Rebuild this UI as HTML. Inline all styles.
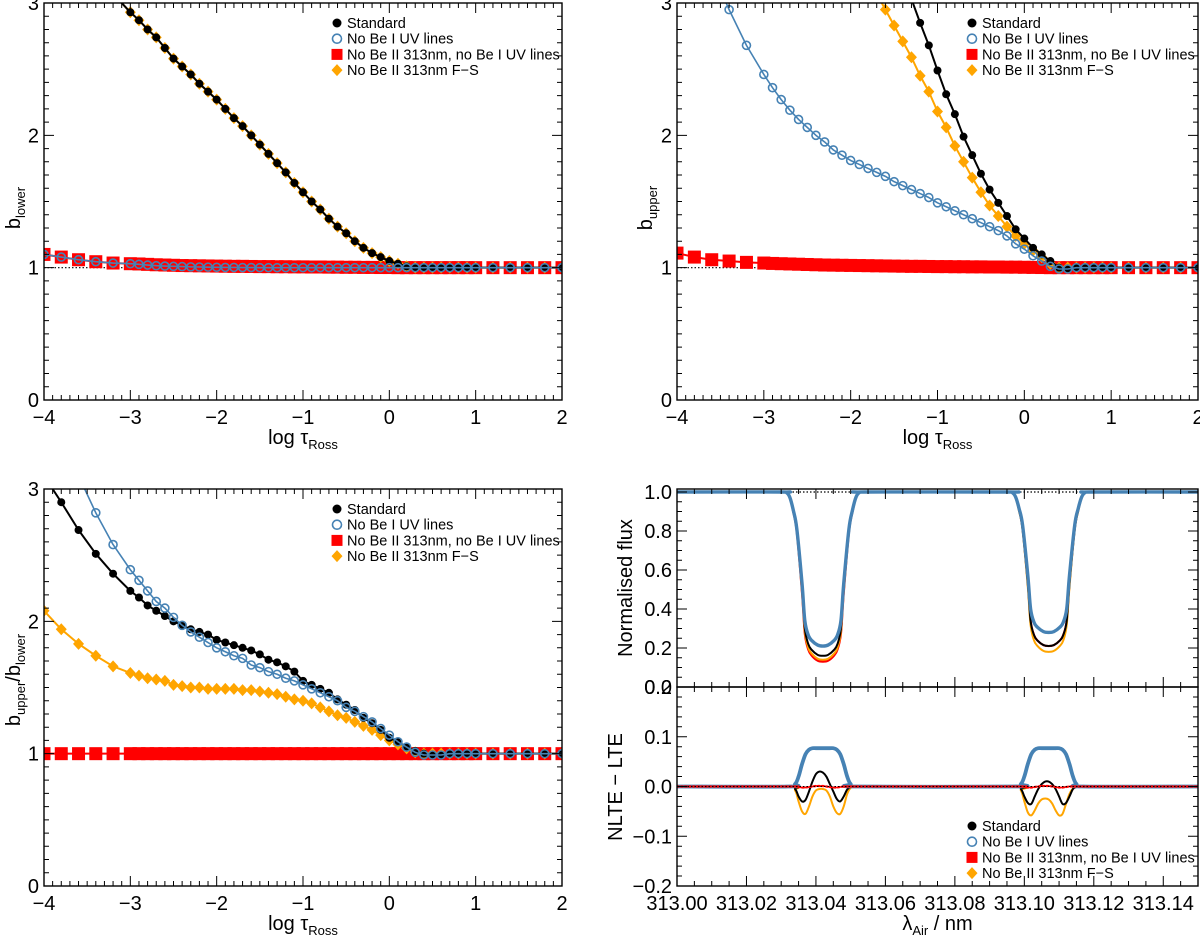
<!DOCTYPE html>
<html><head><meta charset="utf-8"><title>Departure coefficients and line profiles</title>
<style>
html,body{margin:0;padding:0;background:#fff;}
svg{display:block;font-family:"Liberation Sans",Arial,sans-serif;}
</style></head>
<body>
<svg id="fig" width="1200" height="935" viewBox="0 0 1200 935" xmlns="http://www.w3.org/2000/svg"></svg>
<script>
// ---------------- DATA ----------------
const tau = [-4,-3.8,-3.6,-3.4,-3.2,
 -3,-2.9,-2.8,-2.7,-2.6,-2.5,-2.4,-2.3,-2.2,-2.1,
 -2,-1.9,-1.8,-1.7,-1.6,-1.5,-1.4,-1.3,-1.2,-1.1,
 -1,-0.9,-0.8,-0.7,-0.6,-0.5,-0.4,-0.3,-0.2,-0.1,
 0,0.1,0.2,0.3,0.4,0.5,0.6,0.7,0.8,0.9,1.0,
 1.2,1.4,1.6,1.8,2.0];

// Panel 1: b_lower
const p1Std = [3.6,3.47,3.34,3.21,3.07,
 2.93,2.87,2.80,2.74,2.66,2.58,2.52,2.46,2.39,2.33,
 2.27,2.20,2.13,2.07,2.00,1.93,1.86,1.79,1.72,1.64,
 1.57,1.50,1.44,1.37,1.31,1.26,1.20,1.15,1.11,1.08,
 1.05,1.03,1.01,1.0,1.0,1.0,1.0,1.0,1.0,1.0,1.0,
 1,1,1,1,1];
const p1FS = [3.6,3.47,3.34,3.21,3.07,
 2.93,2.87,2.80,2.74,2.66,2.58,2.52,2.46,2.39,2.33,
 2.27,2.20,2.13,2.07,2.00,1.93,1.86,1.79,1.72,1.64,
 1.57,1.50,1.44,1.37,1.31,1.26,1.20,1.15,1.11,1.08,
 1.05,1.03,1.01,1.0,1.0,1.0,1.0,1.0,1.0,1.0,1.0,
 1,1,1,1,1];
const p1NoUV = [1.10,1.08,1.06,1.045,1.035,
 1.03,1.025,1.02,1.015,1.012,1.01,1.008,1.006,1.005,1.004,
 1.003,1.002,1.002,1.001,1.001,1.0,1.0,1.0,1.0,1.0,
 1,1,1,1,1,1,1,1,1,1,
 1,1,1,1,1,1,1,1,1,1,1,
 1,1,1,1,1];
const p1NoBoth = [1.10,1.08,1.06,1.045,1.035,
 1.03,1.028,1.025,1.022,1.02,1.018,1.016,1.015,1.014,1.013,
 1.012,1.011,1.01,1.01,1.009,1.008,1.008,1.007,1.007,1.006,
 1.006,1.005,1.005,1.004,1.004,1.003,1.003,1.002,1.002,1.001,
 1.001,1,1,1,1,1,1,1,1,1,1,
 1,1,1,1,1];

// Panel 2: b_upper
const p2Std = [7.5,7.2,6.9,6.6,6.3,
 5.98,5.81,5.64,5.47,5.3,5.13,4.96,4.79,4.62,4.45,
 4.28,4.1,3.93,3.75,3.57,3.39,3.21,3.03,2.85,2.68,
 2.49,2.31,2.16,1.99,1.85,1.71,1.59,1.49,1.39,1.29,
 1.22,1.15,1.10,1.05,1.0,0.995,1,1,1,1,1,
 1,1,1,1,1];
const p2FS = [5.6,5.4,5.2,5.0,4.8,
 4.6,4.48,4.36,4.24,4.12,4.0,3.89,3.78,3.66,3.55,
 3.43,3.31,3.19,3.07,2.95,2.83,2.71,2.59,2.45,2.33,
 2.18,2.06,1.92,1.80,1.68,1.57,1.47,1.39,1.31,1.24,
 1.18,1.13,1.08,1.03,1.0,1,1,1,1,1,1,
 1,1,1,1,1];
const p2NoUV = [3.85,3.55,3.25,2.95,2.68,
 2.46,2.36,2.27,2.19,2.12,2.06,2.0,1.95,1.89,1.85,
 1.81,1.78,1.75,1.72,1.69,1.65,1.62,1.59,1.56,1.53,
 1.49,1.46,1.43,1.40,1.37,1.34,1.31,1.28,1.24,1.18,
 1.14,1.09,1.05,1.01,0.99,0.99,1,1,1,1,1,
 1,1,1,1,1];
const p2NoBoth = [1.11,1.08,1.06,1.05,1.04,
 1.035,1.032,1.03,1.028,1.026,1.024,1.022,1.02,1.019,1.018,
 1.017,1.016,1.015,1.014,1.013,1.012,1.011,1.01,1.01,1.009,
 1.008,1.008,1.007,1.007,1.006,1.006,1.005,1.005,1.004,1.004,
 1.003,1.002,1.001,1,1,1,1,1,1,1,1,
 1,1,1,1,1];

// Panel 3: b_upper/b_lower
const p3Std = [3.1,2.90,2.69,2.51,2.36,
 2.23,2.18,2.12,2.08,2.04,2.0,1.97,1.94,1.92,1.90,
 1.86,1.84,1.82,1.80,1.78,1.75,1.71,1.69,1.66,1.62,
 1.55,1.52,1.49,1.46,1.41,1.37,1.33,1.27,1.23,1.18,
 1.12,1.09,1.05,1.02,1.0,0.99,0.99,1,1,1,1,
 1,1,1,1,1];
const p3NoUV = [3.8,3.45,3.1,2.82,2.58,
 2.39,2.31,2.23,2.15,2.10,2.03,1.97,1.92,1.88,1.84,
 1.80,1.77,1.74,1.72,1.67,1.65,1.62,1.60,1.57,1.55,
 1.52,1.49,1.46,1.43,1.40,1.35,1.32,1.28,1.24,1.19,
 1.14,1.09,1.05,1.01,0.99,0.99,0.99,1,1,1,1,
 1,1,1,1,1];
const p3FS = [2.08,1.94,1.83,1.74,1.66,
 1.61,1.59,1.57,1.56,1.55,1.52,1.51,1.50,1.50,1.49,
 1.49,1.49,1.49,1.48,1.48,1.47,1.46,1.45,1.43,1.41,
 1.40,1.38,1.35,1.32,1.29,1.27,1.24,1.21,1.18,1.14,
 1.10,1.07,1.04,1.01,1.0,1,1,1,1,1,1,
 1,1,1,1,1];
const p3NoBoth = [1,1,1,1,1,
 1,1,1,1,1,1,1,1,1,1,
 1,1,1,1,1,1,1,1,1,1,
 1,1,1,1,1,1,1,1,1,1,
 1,1,1,1,1,1,1,1,1,1,1,
 1,1,1,1,1];

// Panel 4a: normalised flux
const fluxWl = [313.000,
 313.030,313.0315,313.0325,313.0335,313.0345,313.036,313.0368,313.0378,313.0388,313.0405,313.042,
 313.0435,313.0452,313.0462,313.0472,313.048,313.0495,313.0505,313.0515,313.0525,313.054,
 313.095,313.0965,313.0975,313.0985,313.0995,313.101,313.1018,313.1028,313.1038,313.1055,313.107,
 313.1085,313.1102,313.1112,313.1122,313.113,313.1145,313.1155,313.1165,313.1175,313.119,
 313.150];
const fluxStd = [1,
 1,.997,.97,.90,.80,.50,.30,.22,.19,.165,.16,
 .165,.19,.22,.30,.50,.80,.90,.97,.997,1,
 1,.997,.972,.905,.81,.53,.34,.266,.238,.215,.21,
 .215,.238,.266,.34,.53,.81,.905,.972,.997,1,
 1];
const fluxNoUV = [1,
 1,.997,.972,.905,.81,.53,.34,.266,.238,.215,.21,
 .215,.238,.266,.34,.53,.81,.905,.972,.997,1,
 1,.997,.974,.914,.829,.572,.40,.331,.306,.284,.28,
 .284,.306,.331,.40,.572,.829,.914,.974,.997,1,
 1];
const fluxNoBoth = [1,
 1,.997,.969,.896,.793,.482,.275,.192,.161,.135,.13,
 .135,.161,.192,.275,.482,.793,.896,.969,.997,1,
 1,.997,.972,.905,.81,.53,.34,.266,.238,.215,.21,
 .215,.238,.266,.34,.53,.81,.905,.972,.997,1,
 1];
const fluxFS = [1,
 1,.997,.969,.897,.795,.488,.284,.201,.171,.145,.14,
 .145,.171,.201,.284,.488,.795,.897,.969,.997,1,
 1,.997,.97,.90,.805,.512,.317,.238,.21,.185,.18,
 .185,.21,.238,.317,.512,.805,.90,.97,.997,1,
 1];

// Panel 4b: NLTE - LTE
const diffWl = [313.000,
 313.032,313.034,313.035,313.036,313.037,313.038,313.039,313.040,313.041,313.042,313.043,313.044,313.045,313.046,313.047,313.048,313.049,313.050,313.052,
 313.097,313.099,313.100,313.101,313.102,313.103,313.104,313.105,313.106,313.107,313.108,313.109,313.110,313.111,313.112,313.113,313.114,313.115,313.117,
 313.150];
const diffStd = [0,
 0,-.005,-.02,-.03,-.027,-.01,.01,.025,.03,.028,.02,.005,-.01,-.025,-.03,-.02,-.006,-.001,0,
 0,-.005,-.02,-.033,-.035,-.02,-.005,.005,.01,.01,.005,-.005,-.02,-.035,-.033,-.02,-.005,-.001,0,
 0];
const diffNoUV = [0,
 0,.005,.02,.045,.065,.074,.077,.077,.077,.077,.077,.077,.077,.074,.065,.045,.02,.005,0,
 0,.005,.02,.045,.065,.074,.077,.077,.077,.077,.077,.077,.077,.074,.065,.045,.02,.005,0,
 0];
const diffNoBoth = [0,
 0,0,-.001,-.002,-.002,-.001,0,.001,.001,.001,0,-.001,-.002,-.002,-.001,0,0,0,0,
 0,0,-.001,-.002,-.002,-.001,0,.001,.001,.001,0,-.001,-.002,-.002,-.001,0,0,0,0,
 0];
const diffFS = [0,
 0,-.008,-.03,-.05,-.055,-.04,-.02,-.008,-.005,-.005,-.008,-.02,-.04,-.053,-.055,-.04,-.015,-.003,0,
 0,-.008,-.03,-.052,-.058,-.048,-.034,-.026,-.024,-.026,-.034,-.048,-.058,-.055,-.035,-.015,-.004,0,0,
 0];

// Tick labels
const tauTicks = [-4,-3,-2,-1,0,1,2];
const tauTickLabels = ["\u22124","\u22123","\u22122","\u22121","0","1","2"];
const bTicks = [0,1,2,3];
const bTickLabels = ["0","1","2","3"];
const wlTicks = [313.00,313.02,313.04,313.06,313.08,313.10,313.12,313.14];
const wlTickLabels = ["313.00","313.02","313.04","313.06","313.08","313.10","313.12","313.14"];
const fluxTicks = [0,0.2,0.4,0.6,0.8,1.0];
const fluxTickLabels = ["0.0","0.2","0.4","0.6","0.8","1.0"];
const diffTicks = [-0.2,-0.1,0,0.1,0.2];
const diffTickLabels = ["\u22120.2","\u22120.1","0.0","0.1","0.2"];
const legendLabels = ["Standard","No Be I UV lines","No Be II 313nm, no Be I UV lines","No Be II 313nm F\u2212S"];

// ---------------- DRAWING ----------------
const NS = "http://www.w3.org/2000/svg";
const svg = document.getElementById("fig");
const C = {blk:"#000000", blue:"#4682b4", red:"#ff0000", org:"#ffa500"};

function mk(tag, attrs, parent){
  const e = document.createElementNS(NS, tag);
  for (const k in attrs) e.setAttribute(k, attrs[k]);
  (parent||svg).appendChild(e);
  return e;
}
function sx(p,v){ return p.x0 + (v-p.xd[0])/(p.xd[1]-p.xd[0])*(p.x1-p.x0); }
function sy(p,v){ return p.y1 - (v-p.yd[0])/(p.yd[1]-p.yd[0])*(p.y1-p.y0); }

function clipFor(p, id){
  const cp = mk("clipPath",{id:id});
  mk("rect",{x:p.x0,y:p.y0,width:p.x1-p.x0,height:p.y1-p.y0},cp);
  const g = mk("g",{"clip-path":"url(#"+id+")"});
  return g;
}

function frame(p, name){
  const r = mk("rect",{x:p.x0,y:p.y0,width:p.x1-p.x0,height:p.y1-p.y0,fill:"none",stroke:"#000","stroke-width":1.4});
  
  
}

function ticks(p, name, xmaj, xminStep, ymaj, yminStep){
  const g = mk("g",{stroke:"#000","stroke-width":1});
  
  
  let d = "";
  const xr = p.xd, yr = p.yd;
  for (let v = Math.ceil(xr[0]/xminStep-1e-6)*xminStep; v <= xr[1]+1e-9; v += xminStep){
    const X = sx(p,v).toFixed(2);
    const isMaj = xmaj.some(m=>Math.abs(m-v)<xminStep/10);
    const L = isMaj?10:5;
    d += "M"+X+" "+p.y1+"v"+(-L)+"M"+X+" "+p.y0+"v"+L;
  }
  for (let v = Math.ceil(yr[0]/yminStep-1e-6)*yminStep; v <= yr[1]+1e-9; v += yminStep){
    const Y = sy(p,v).toFixed(2);
    const isMaj = ymaj.some(m=>Math.abs(m-v)<yminStep/10);
    const L = isMaj?10:5;
    d += "M"+p.x0+" "+Y+"h"+L+"M"+p.x1+" "+Y+"h"+(-L);
  }
  mk("path",{d:d,fill:"none"},g);
}

function xLabels(p, name, vals, labels, yBase){
  vals.forEach((v,i)=>{
    const t = mk("text",{x:sx(p,v),y:yBase,"font-size":20,"text-anchor":"middle",fill:"#000"});
    t.textContent = labels[i];
    
    
  });
}
function yLabels(p, name, vals, labels, xRight, off){
  vals.forEach((v,i)=>{
    const t = mk("text",{x:xRight,y:sy(p,v)+(off||7),"font-size":20,"text-anchor":"end",fill:"#000"});
    t.textContent = labels[i];
    
    
  });
}

function tauTitle(p, name, y){
  const t = mk("text",{x:(p.x0+p.x1)/2,y:y,"font-size":20,"text-anchor":"middle",fill:"#000"});
  t.innerHTML = 'log \u03c4<tspan font-size="13" dy="5">Ross</tspan>';
  
  
}

function yTitle(x, y, html, name){
  const t = mk("text",{x:0,y:0,"font-size":20,"text-anchor":"middle",fill:"#000",transform:"translate("+x+","+y+") rotate(-90)"});
  t.innerHTML = html;
  
  
}

function polyline(g, p, xs, ys, color, w, dash, name){
  const pts = xs.map((x,i)=>sx(p,x).toFixed(2)+","+sy(p,ys[i]).toFixed(2)).join(" ");
  const a = {points:pts,fill:"none",stroke:color,"stroke-width":w,"stroke-linejoin":"round"};
  if (dash) a["stroke-dasharray"] = dash;
  const l = mk("polyline",a,g);
  
  
  return l;
}

function smoothPath(g, p, xs, ys, color, w, dash, name){
  const P = xs.map((x,i)=>[sx(p,x), sy(p,ys[i])]);
  let d = "M"+P[0][0].toFixed(2)+" "+P[0][1].toFixed(2);
  for (let i=0;i<P.length-1;i++){
    const p0 = P[Math.max(0,i-1)], p1 = P[i], p2 = P[i+1], p3 = P[Math.min(P.length-1,i+2)];
    const c1x = p1[0]+(p2[0]-p0[0])/6, c1y = p1[1]+(p2[1]-p0[1])/6;
    const c2x = p2[0]-(p3[0]-p1[0])/6, c2y = p2[1]-(p3[1]-p1[1])/6;
    d += "C"+c1x.toFixed(2)+" "+c1y.toFixed(2)+" "+c2x.toFixed(2)+" "+c2y.toFixed(2)+" "+p2[0].toFixed(2)+" "+p2[1].toFixed(2);
  }
  const a = {d:d,fill:"none",stroke:color,"stroke-width":w,"stroke-linejoin":"round","stroke-linecap":"round"};
  if (dash) a["stroke-dasharray"] = dash;
  const l = mk("path",a,g);
  
  
}

function marker(g, type, X, Y){
  let e;
  if (type==="circle"){
    e = mk("circle",{cx:X,cy:Y,r:4,fill:C.blk},g);
  } else if (type==="open"){
    e = mk("circle",{cx:X,cy:Y,r:4,fill:"none",stroke:C.blue,"stroke-width":1.6},g);
  } else if (type==="square"){
    e = mk("rect",{x:X-6.5,y:Y-6.5,width:13,height:13,fill:C.red},g);
  } else {
    e = mk("path",{d:"M"+X+" "+(Y-6)+"L"+(X+5.5)+" "+Y+"L"+X+" "+(Y+6)+"L"+(X-5.5)+" "+Y+"Z",fill:C.org},g);
  }
  return e;
}

function series(g, p, xs, ys, color, w, type, name){
  const sg = mk("g",{},g);
  
  
  polyline(sg, p, xs, ys, color, w, null, name+'-line');
  xs.forEach((x,i)=>{
    const m = marker(sg, type, sx(p,x), sy(p,ys[i]));
    
    
  });
}

function legend(x, y0, dy, name){
  const types = ["circle","open","square","diamond"];
  const lg = mk("g",{});
  
  
  legendLabels.forEach((lab,i)=>{
    const Y = y0 + i*dy;
    const m = marker(lg, types[i], x, Y);
    if (types[i]==="square"){ m.setAttribute("x", x-5.5); m.setAttribute("y", Y-5.5); m.setAttribute("width",11); m.setAttribute("height",11); }
    if (types[i]==="open"){ m.setAttribute("r",4.5); }
    if (types[i]==="circle"){ m.setAttribute("r",4.5); }
    
    
    const t = mk("text",{x:x+10,y:Y+5,"font-size":14.5,fill:"#000"},lg);
    t.textContent = lab;
    
    
  });
}

function tauPanel(p, id, std, noUV, noBoth, fs){
  const g = clipFor(p, id+"-clip");
  
  
  const ref = mk("line",{x1:p.x0,x2:p.x1,y1:sy(p,1),y2:sy(p,1),stroke:"#000","stroke-width":1.2,"stroke-dasharray":"1.5,2"},g);
  
  
  series(g, p, tau, noBoth, C.red, 2, "square", id+'-no-beii-no-bei-uv');
  series(g, p, tau, fs, C.org, 2, "diamond", id+'-no-beii-fs');
  series(g, p, tau, std, C.blk, 2, "circle", id+'-standard');
  series(g, p, tau, noUV, C.blue, 1.6, "open", id+'-no-bei-uv');
  ticks(p, id, tauTicks, 0.1, bTicks, 0.1);
  frame(p, id);
}

// Panel geometry
const P1 = {x0:44,x1:562,y0:3,y1:400,xd:[-4,2],yd:[0,3]};
const P2 = {x0:677,x1:1198,y0:3,y1:400,xd:[-4,2],yd:[0,3]};
const P3 = {x0:44,x1:562,y0:489,y1:886,xd:[-4,2],yd:[0,3]};
const P4a = {x0:677,x1:1198,y0:489,y1:687,xd:[313.0,313.15],yd:[0,198/195]};
const P4b = {x0:677,x1:1198,y0:687,y1:886,xd:[313.0,313.15],yd:[-0.2,0.2]};

// Panel 1
tauPanel(P1, "panel-b-lower", p1Std, p1NoUV, p1NoBoth, p1FS);
xLabels(P1, "panel-b-lower", tauTicks, tauTickLabels, 424);
yLabels(P1, "panel-b-lower", bTicks, bTickLabels, 39);
tauTitle(P1, "panel-b-lower", 444);
yTitle(20, 208, 'b<tspan font-size="13" dy="5">lower</tspan>', "b-lower-y-axis-title");
legend(337, 23, 15.7, "legend-b-lower");

// Panel 2
tauPanel(P2, "panel-b-upper", p2Std, p2NoUV, p2NoBoth, p2FS);
xLabels(P2, "panel-b-upper", tauTicks, tauTickLabels, 424);
yLabels(P2, "panel-b-upper", bTicks, bTickLabels, 672);
tauTitle(P2, "panel-b-upper", 444);
yTitle(652, 208, 'b<tspan font-size="13" dy="5">upper</tspan>', "b-upper-y-axis-title");
legend(972, 23, 15.7, "legend-b-upper");

// Panel 3
tauPanel(P3, "panel-b-ratio", p3Std, p3NoUV, p3NoBoth, p3FS);
xLabels(P3, "panel-b-ratio", tauTicks, tauTickLabels, 910);
yLabels(P3, "panel-b-ratio", bTicks, bTickLabels, 39);
tauTitle(P3, "panel-b-ratio", 930);
yTitle(20, 680, 'b<tspan font-size="13" dy="5">upper</tspan><tspan dy="-5">/b</tspan><tspan font-size="13" dy="5">lower</tspan>', "b-ratio-y-axis-title");
legend(337, 509, 15.7, "legend-b-ratio");

// Panel 4a
(function(){
  const p = P4a;
  const g = clipFor(p, "flux-clip");
  
  
  const ref = mk("line",{x1:p.x0,x2:p.x1,y1:sy(p,1),y2:sy(p,1),stroke:"#000","stroke-width":1.2,"stroke-dasharray":"1.5,2"},g);
  
  
  smoothPath(g, p, fluxWl, fluxNoBoth, C.red, 2.2, null, 'flux-no-beii-no-bei-uv');
  smoothPath(g, p, fluxWl, fluxFS, C.org, 2, null, 'flux-no-beii-fs');
  smoothPath(g, p, fluxWl, fluxStd, C.blk, 2, null, 'flux-standard');
  smoothPath(g, p, fluxWl, fluxNoUV, C.blue, 3.4, null, 'flux-no-bei-uv');
  ticks(p, "flux", wlTicks, 0.005, fluxTicks, 0.05);
  frame(p, "flux");
  yLabels(p, "flux", fluxTicks, fluxTickLabels, 672);
  yTitle(632, 588, 'Normalised flux', "flux-y-axis-title");
})();

// Panel 4b
(function(){
  const p = P4b;
  const g = clipFor(p, "diff-clip");
  
  
  smoothPath(g, p, diffWl, diffFS, C.org, 2, null, 'diff-no-beii-fs');
  smoothPath(g, p, diffWl, diffStd, C.blk, 2, null, 'diff-standard');
  smoothPath(g, p, diffWl, diffNoUV, C.blue, 3.8, null, 'diff-no-bei-uv');
  smoothPath(g, p, diffWl, diffNoBoth, C.red, 2.2, "2,2", 'diff-no-beii-no-bei-uv');
  const ref = mk("line",{x1:p.x0,x2:p.x1,y1:sy(p,0),y2:sy(p,0),stroke:"#000","stroke-width":1,"stroke-dasharray":"1.5,2"},g);
  
  
  ticks(p, "diff", wlTicks, 0.005, diffTicks, 0.02);
  frame(p, "diff");
  yLabels(p, "diff", diffTicks, diffTickLabels, 672);
  xLabels(p, "diff", wlTicks, wlTickLabels, 910);
  const t = mk("text",{x:(p.x0+p.x1)/2,y:930,"font-size":20,"text-anchor":"middle",fill:"#000"});
  t.innerHTML = '\u03bb<tspan font-size="13" dy="5">Air</tspan><tspan dy="-5"> / nm</tspan>';
  
  
  yTitle(622, 787, 'NLTE \u2212 LTE', "diff-y-axis-title");
  legend(972, 826, 15.7, "legend-spectrum");
})();
</script>
</body></html>
